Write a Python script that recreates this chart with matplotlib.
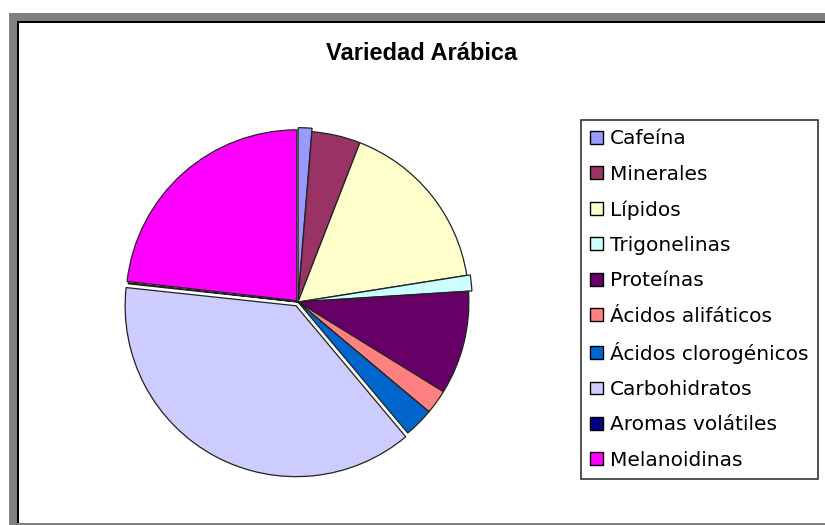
import matplotlib
matplotlib.use("Agg")
import matplotlib.pyplot as plt
from matplotlib.patches import Rectangle

# datos (porcentajes aproximados)
componentes = ['Cafeína', 'Minerales', 'Lípidos', 'Trigonelinas', 'Proteínas',
               'Ácidos alifáticos', 'Ácidos clorogénicos', 'Carbohidratos',
               'Aromas volátiles', 'Melanoidinas']
porcentajes = [1.3, 4.6, 16.6, 1.5, 9.8, 2.3, 2.8, 37.8, 0.1, 23.2]
colores = ['#9999FF', '#993366', '#FFFFCC', '#CCFFFF', '#660066',
           '#FF8080', '#0066CC', '#CCCCFF', '#000080', '#FF00FF']
separacion = [0.02, 0, 0, 0.02, 0, 0, 0, 0.025, 0, 0.01]

W, H = 825, 525
fig = plt.figure(figsize=(W / 100, H / 100), dpi=100)

# marco gris estilo Excel
bg = fig.add_axes([0, 0, 1, 1])
bg.set_xlim(0, W)
bg.set_ylim(H, 0)
bg.axis('off')
bg.add_patch(Rectangle((9, 13), W, H, facecolor='#808080', edgecolor='none'))
bg.add_patch(Rectangle((17, 21), W, 502, facecolor='black', edgecolor='none'))
bg.add_patch(Rectangle((19, 23), W, 500, facecolor='white', edgecolor='none'))

# tarta
cx, cy, r = 298, 302, 176
ax = fig.add_axes([(cx - r) / W, (H - cy - r) / H, 2 * r / W, 2 * r / H])
wedges, _ = ax.pie(porcentajes, colors=colores, explode=separacion,
                   startangle=90, counterclock=False, radius=1,
                   wedgeprops=dict(edgecolor='#222222', linewidth=0.9))
ax.set_xlim(-1.03, 1.03)
ax.set_ylim(-1.03, 1.03)
ax.set_aspect('equal')
ax.axis('off')

fig.text(422 / W, 1 - 53 / H, 'Variedad Arábica', ha='center', va='center',
         fontsize=17, fontweight='bold', family='Liberation Sans')

leg = fig.legend(wedges, componentes, loc='upper left',
                 bbox_to_anchor=(581 / W, 1 - 120 / H),
                 fontsize=14.5, frameon=True, fancybox=False,
                 labelspacing=0.81, borderpad=0.47, handlelength=0.6,
                 handleheight=0.6, handletextpad=0.35, borderaxespad=0)
leg.get_frame().set_edgecolor('black')
leg.get_frame().set_linewidth(1.2)
for h in leg.legend_handles:
    h.set_edgecolor('black')
    h.set_linewidth(1)

fig.savefig('out.png', dpi=100)
